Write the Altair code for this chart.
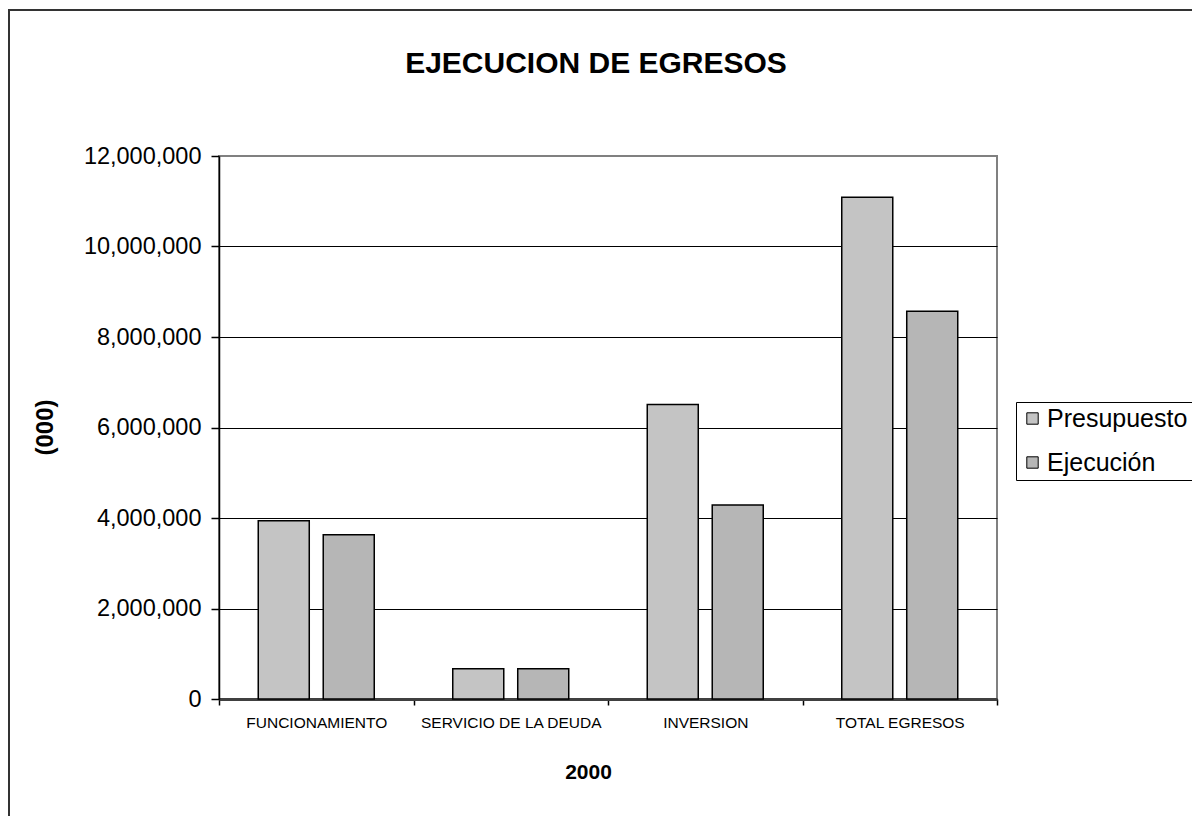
import altair as alt
import pandas as pd

categories = ["FUNCIONAMIENTO", "SERVICIO DE LA DEUDA", "INVERSION", "TOTAL EGRESOS"]
series = ["Presupuesto", "Ejecución"]
presupuesto = [3940000, 670000, 6510000, 11090000]
ejecucion = [3630000, 670000, 4290000, 8570000]
y_ticks = [0, 2000000, 4000000, 6000000, 8000000, 10000000, 12000000]
title_text = ["EJECUCION DE EGRESOS"]

rows = []
for c, p, e in zip(categories, presupuesto, ejecucion):
    rows.append({"categoria": c, "serie": series[0], "valor": p})
    rows.append({"categoria": c, "serie": series[1], "valor": e})
df = pd.DataFrame(rows)

REG = "Liberation Sans, Arial"

bars = alt.Chart(df).mark_bar(stroke="black", strokeWidth=1.5).encode(
    x=alt.X(
        "categoria:N",
        sort=categories,
        scale=alt.Scale(paddingInner=0, paddingOuter=0),
        axis=alt.Axis(
            title="2000",
            labelAngle=0,
            labelFont=REG,
            labelFontSize=15.5,
            labelColor="black",
            labelPadding=10,
            labelBaseline="top",
            labelLimit=300,
            domainColor="#404040",
            domainWidth=3,
            tickColor="black",
            tickSize=6,
            tickWidth=1.5,
            tickBand="extent",
            grid=False,
            titleFont=REG,
            titleFontSize=21,
            titleFontWeight="bold",
            titleColor="black",
            titleX=369,
            titleY=73,
            titleAlign="center",
            titleBaseline="middle",
        ),
    ),
    xOffset=alt.XOffset(
        "serie:N", sort=series, scale=alt.Scale(paddingInner=0.215, paddingOuter=0.604)
    ),
    y=alt.Y(
        "valor:Q",
        scale=alt.Scale(domain=[0, 12000000], nice=False),
        axis=alt.Axis(
            title="(000)",
            values=y_ticks,
            format=",d",
            labelFont=REG,
            labelFontSize=23.5,
            labelColor="black",
            labelPadding=10,
            domainColor="black",
            domainWidth=1.5,
            tickColor="black",
            tickSize=8,
            tickWidth=1.5,
            grid=True,
            gridColor=alt.condition("datum.value >= 12000000", alt.value("#808080"), alt.value("black")),
            gridWidth=1,
            titleFont=REG,
            titleFontSize=24,
            titleFontWeight="bold",
            titleColor="black",
            titleX=-174,
            titleY=271,
            titleAlign="center",
            titleBaseline="middle",
        ),
    ),
    color=alt.Color(
        "serie:N",
        sort=series,
        scale=alt.Scale(domain=series, range=["#c4c4c4", "#b6b6b6"]),
        legend=alt.Legend(
            title=None,
            orient="none",
            legendX=797,
            legendY=246,
            fillColor="white",
            strokeColor="black",
            padding=4,
            rowPadding=18,
            symbolType="square",
            symbolSize=130,
            symbolStrokeColor="black",
            symbolStrokeWidth=1,
            symbolOpacity=1,
            labelFont=REG,
            labelFontSize=25,
            labelColor="black",
            labelOffset=2,
            labelLimit=400,
        ),
    ),
)

frame = alt.Chart(pd.DataFrame({"a": [0]})).mark_rect(
    fill="transparent", stroke="#333333", strokeWidth=2
).encode(
    x=alt.value(-210), x2=alt.value(990), y=alt.value(-146), y2=alt.value(680)
)

title = alt.Chart(pd.DataFrame({"t": title_text})).mark_text(
    font=REG, fontSize=30, fontWeight="bold", align="center", baseline="middle", color="black"
).encode(text="t:N", x=alt.value(377), y=alt.value(-92))

chart = alt.layer(frame, bars, title).properties(
    width=778,
    height=543,
    autosize=alt.AutoSizeParams(type="none"),
    padding={"left": 219, "top": 156, "right": 195, "bottom": 117},
    background="white",
).configure_view(stroke="#808080", strokeWidth=2)

chart.save("out.html", embed_options={"renderer": "svg", "actions": False})
